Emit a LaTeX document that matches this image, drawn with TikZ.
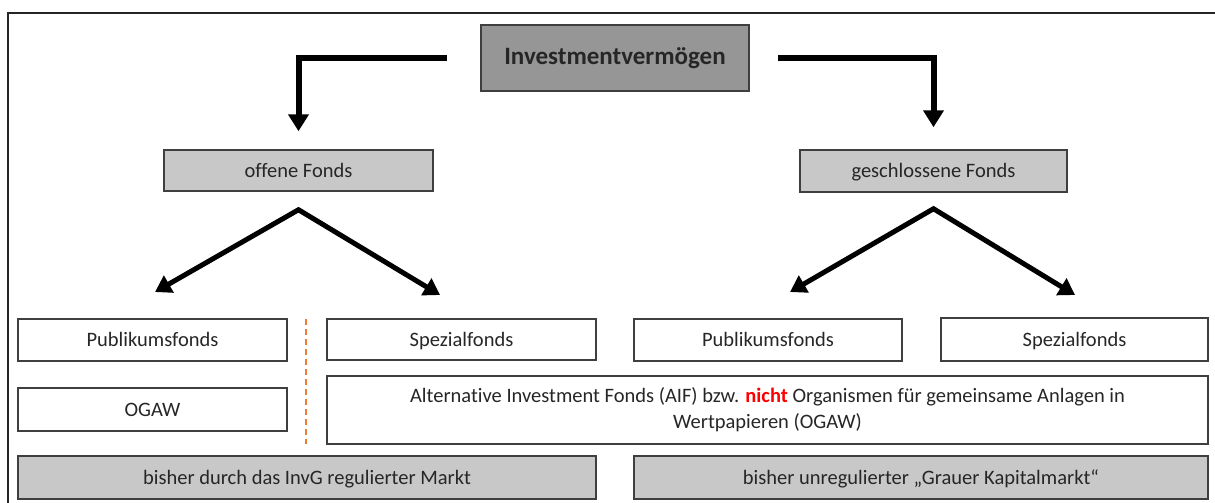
\documentclass[tikz,border=0pt]{standalone}
\usepackage{fontspec}
\setmainfont[Ligatures=NoCommon]{Carlito}
\usetikzlibrary{arrows.meta}

\definecolor{boxdark}{HTML}{969696}
\definecolor{boxlight}{HTML}{C8C8C8}
\definecolor{rimgray}{HTML}{3F3F3F}
\definecolor{inkgray}{HTML}{262626}
\definecolor{dashorange}{HTML}{ED7D31}
\definecolor{nichtred}{HTML}{FF0000}

\tikzset{
  rim/.style={draw=rimgray, line width=1.5pt, inner sep=0pt, text=inkgray,
    font=\fontsize{20.5}{26}\selectfont},
  fund/.style={rim, text height=17pt, text depth=4pt},
  lightfund/.style={fund, fill=boxlight},
  flow/.style={line width=6pt, -{Triangle[length=17pt,width=20pt]}},
  fork/.style={line width=5pt, miter limit=10,
    {Triangle[length=16pt,width=19pt]}-{Triangle[length=16pt,width=19pt]}},
}

\begin{document}
\begin{tikzpicture}[x=1pt, y=-1pt]
\useasboundingbox (0,0) rectangle (1215,503);

% frame
\draw[line width=2pt, inkgray] (8,503) -- (8,13) -- (1215,13);

\node[rim, fill=boxdark, minimum width=268pt, minimum height=66pt,
  font=\bfseries\fontsize{25}{30}\selectfont] (invest) at (615,58) {Investmentvermögen};

\node[lightfund, minimum width=269pt, minimum height=41pt] (offen) at (298.5,170.5) {offene Fonds};
\node[lightfund, minimum width=267pt, minimum height=42pt] (geschl) at (933.5,171) {geschlossene Fonds};

\node[fund, minimum width=269pt, minimum height=42pt] (pubL) at (152.5,340) {Publikumsfonds};
\node[fund, minimum width=269pt, minimum height=41pt] (spezL) at (461.5,339.5) {Spezialfonds};
\node[fund, minimum width=268pt, minimum height=42pt] (pubR) at (768,340) {Publikumsfonds};
\node[fund, minimum width=267pt, minimum height=43pt] (spezR) at (1074.5,339.5) {Spezialfonds};

\node[fund, minimum width=269pt, minimum height=43pt] (ogaw) at (152.5,409.5) {OGAW};
\node[rim, minimum width=881pt, minimum height=68pt, align=center] (aif) at (767.5,410)
  {Alternative Investment Fonds (AIF) bzw. \textcolor{nichtred}{\bfseries nicht} Organismen für gemeinsame Anlagen in\\Wertpapieren (OGAW)};

\node[lightfund, minimum width=578pt, minimum height=43pt] (invg) at (307,477.5) {bisher durch das InvG regulierter Markt};
\node[lightfund, minimum width=574pt, minimum height=43pt] (grau) at (921,477.5) {bisher unregulierter „Grauer Kapitalmarkt“};

% arrows from the top
\draw[flow] ([xshift=-33pt]invest.west) -| ([yshift=18pt]offen.north);
\draw[flow] ([xshift=28pt]invest.east) -| ([yshift=22pt]geschl.north);

% forks
\coordinate (offenfork) at ([yshift=-18pt]offen.south);
\coordinate (pubLtip) at (155,292);
\coordinate (spezLtip) at (440,295);
\draw[fork] (pubLtip) -- (offenfork) -- (spezLtip);

\coordinate (geschlfork) at ([yshift=-16pt]geschl.south);
\coordinate (pubRtip) at (790,292);
\coordinate (spezRtip) at (1075,295);
\draw[fork] (pubRtip) -- (geschlfork) -- (spezRtip);

% divider
\draw[dashorange, line width=1.5pt, dash pattern=on 6pt off 4pt] (306,319) -- (306,444);
\end{tikzpicture}
\end{document}
